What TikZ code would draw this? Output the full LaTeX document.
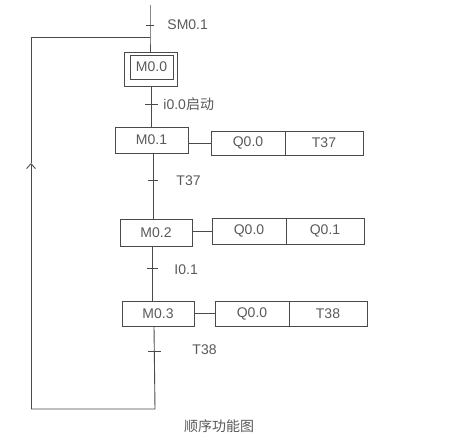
\documentclass[tikz,border=0pt]{standalone}
\usepackage{fontspec}
\setmainfont{Liberation Sans}
\newfontfamily\cjk{Noto Sans CJK SC}
\usetikzlibrary{arrows.meta}
\definecolor{ln}{HTML}{4A4A4A}
\definecolor{tx}{HTML}{5A5A5A}
\begin{document}
\begin{tikzpicture}[x=1pt,y=-1pt,
  line width=0.9pt,
  every node/.style={text=tx,font=\fontsize{14}{16}\selectfont},
  stepbox/.style={draw=ln,minimum width=72pt,minimum height=26pt,inner sep=0pt},
  actbox/.style={draw=ln,minimum height=24pt,inner sep=0pt},
  lab/.style={anchor=west,inner sep=0pt}]
\useasboundingbox[fill=white] (0,0) rectangle (464,444);
% steps
\node[draw=ln,minimum width=53pt,minimum height=34pt,inner sep=0pt] (s0) at (151,69) {};
\node[draw=ln,minimum width=43pt,minimum height=24pt,inner sep=0pt] (s0i) at (151.5,67) {M0.0};
\node[stepbox,minimum width=73pt] (s1) at (151.5,140) {M0.1};
\node[stepbox,minimum height=27pt] (s2) at (156,232.5) {M0.2};
\node[stepbox,minimum height=25pt] (s3) at (158,313.5) {M0.3};
% actions
\node[actbox,minimum width=74pt] (a1) at (248,143) {Q0.0};
\node[actbox,minimum width=78pt] (b1) at (324,143) {T37};
\node[actbox,minimum width=74pt,minimum height=26pt] (a2) at (249,231) {Q0.0};
\node[actbox,minimum width=78pt,minimum height=26pt] (b2) at (325,231) {Q0.1};
\node[actbox,minimum width=74pt,minimum height=25pt] (a3) at (252,313.5) {Q0.0};
\node[actbox,minimum width=78pt,minimum height=25pt] (b3) at (328,313.5) {T38};
% coordinates
\coordinate (top) at (150,5);
\coordinate (jn) at (150,37);
\coordinate (lt) at (31,37);
\coordinate (lb) at (31,409);
\coordinate (la) at (31,163);
\coordinate (bb) at (155,409);
% main line
\draw[ln] (top) -- (jn) -- (s0.north -| jn);
\draw[ln] (s0.south -| s0i) -- (s1.north -| s0i);
\draw[ln] (153,153) coordinate (s1b) -- (153,219) coordinate (s2t);
\draw[ln] (152,246) coordinate (s2b) -- (152,301) coordinate (s3t);
\draw[ln] (154,326) coordinate (s3b) -- (bb) -- (lb);
\draw[ln,-{Straight Barb[length=5pt,width=9pt,line width=0.9pt]}] (lb) -- (la);
\draw[ln] (la) -- (lt) -- (jn);
% action links
\draw[ln] (s1.east |- a1) -- (a1.west);
\draw[ln] (s2.east |- a2) -- (a2.west);
\draw[ln] (s3.east |- a3) -- (a3.west);
% transition ticks
\draw[ln] (146,25) coordinate (t0a) -- (154,25) coordinate (t0b);
\draw[ln] (145,104) coordinate (t1a) -- (158,104) coordinate (t1b);
\draw[ln] (148,180) coordinate (t2a) -- (158,180) coordinate (t2b);
\draw[ln] (147,268) coordinate (t3a) -- (158,268) coordinate (t3b);
\draw[ln] (148,351) coordinate (t4a) -- (161,351) coordinate (t4b);
% labels
\node[lab] (l0) at (167,25) {SM0.1};
\node[lab] (l1) at (163,104) {i0.0{\cjk 启动}};
\node[lab] (l2) at (176,181) {T37};
\node[lab] (l3) at (174,270) {I0.1};
\node[lab] (l4) at (192,350) {T38};
\node (title) at (219,426) {\cjk 顺序功能图};
\end{tikzpicture}
\end{document}
